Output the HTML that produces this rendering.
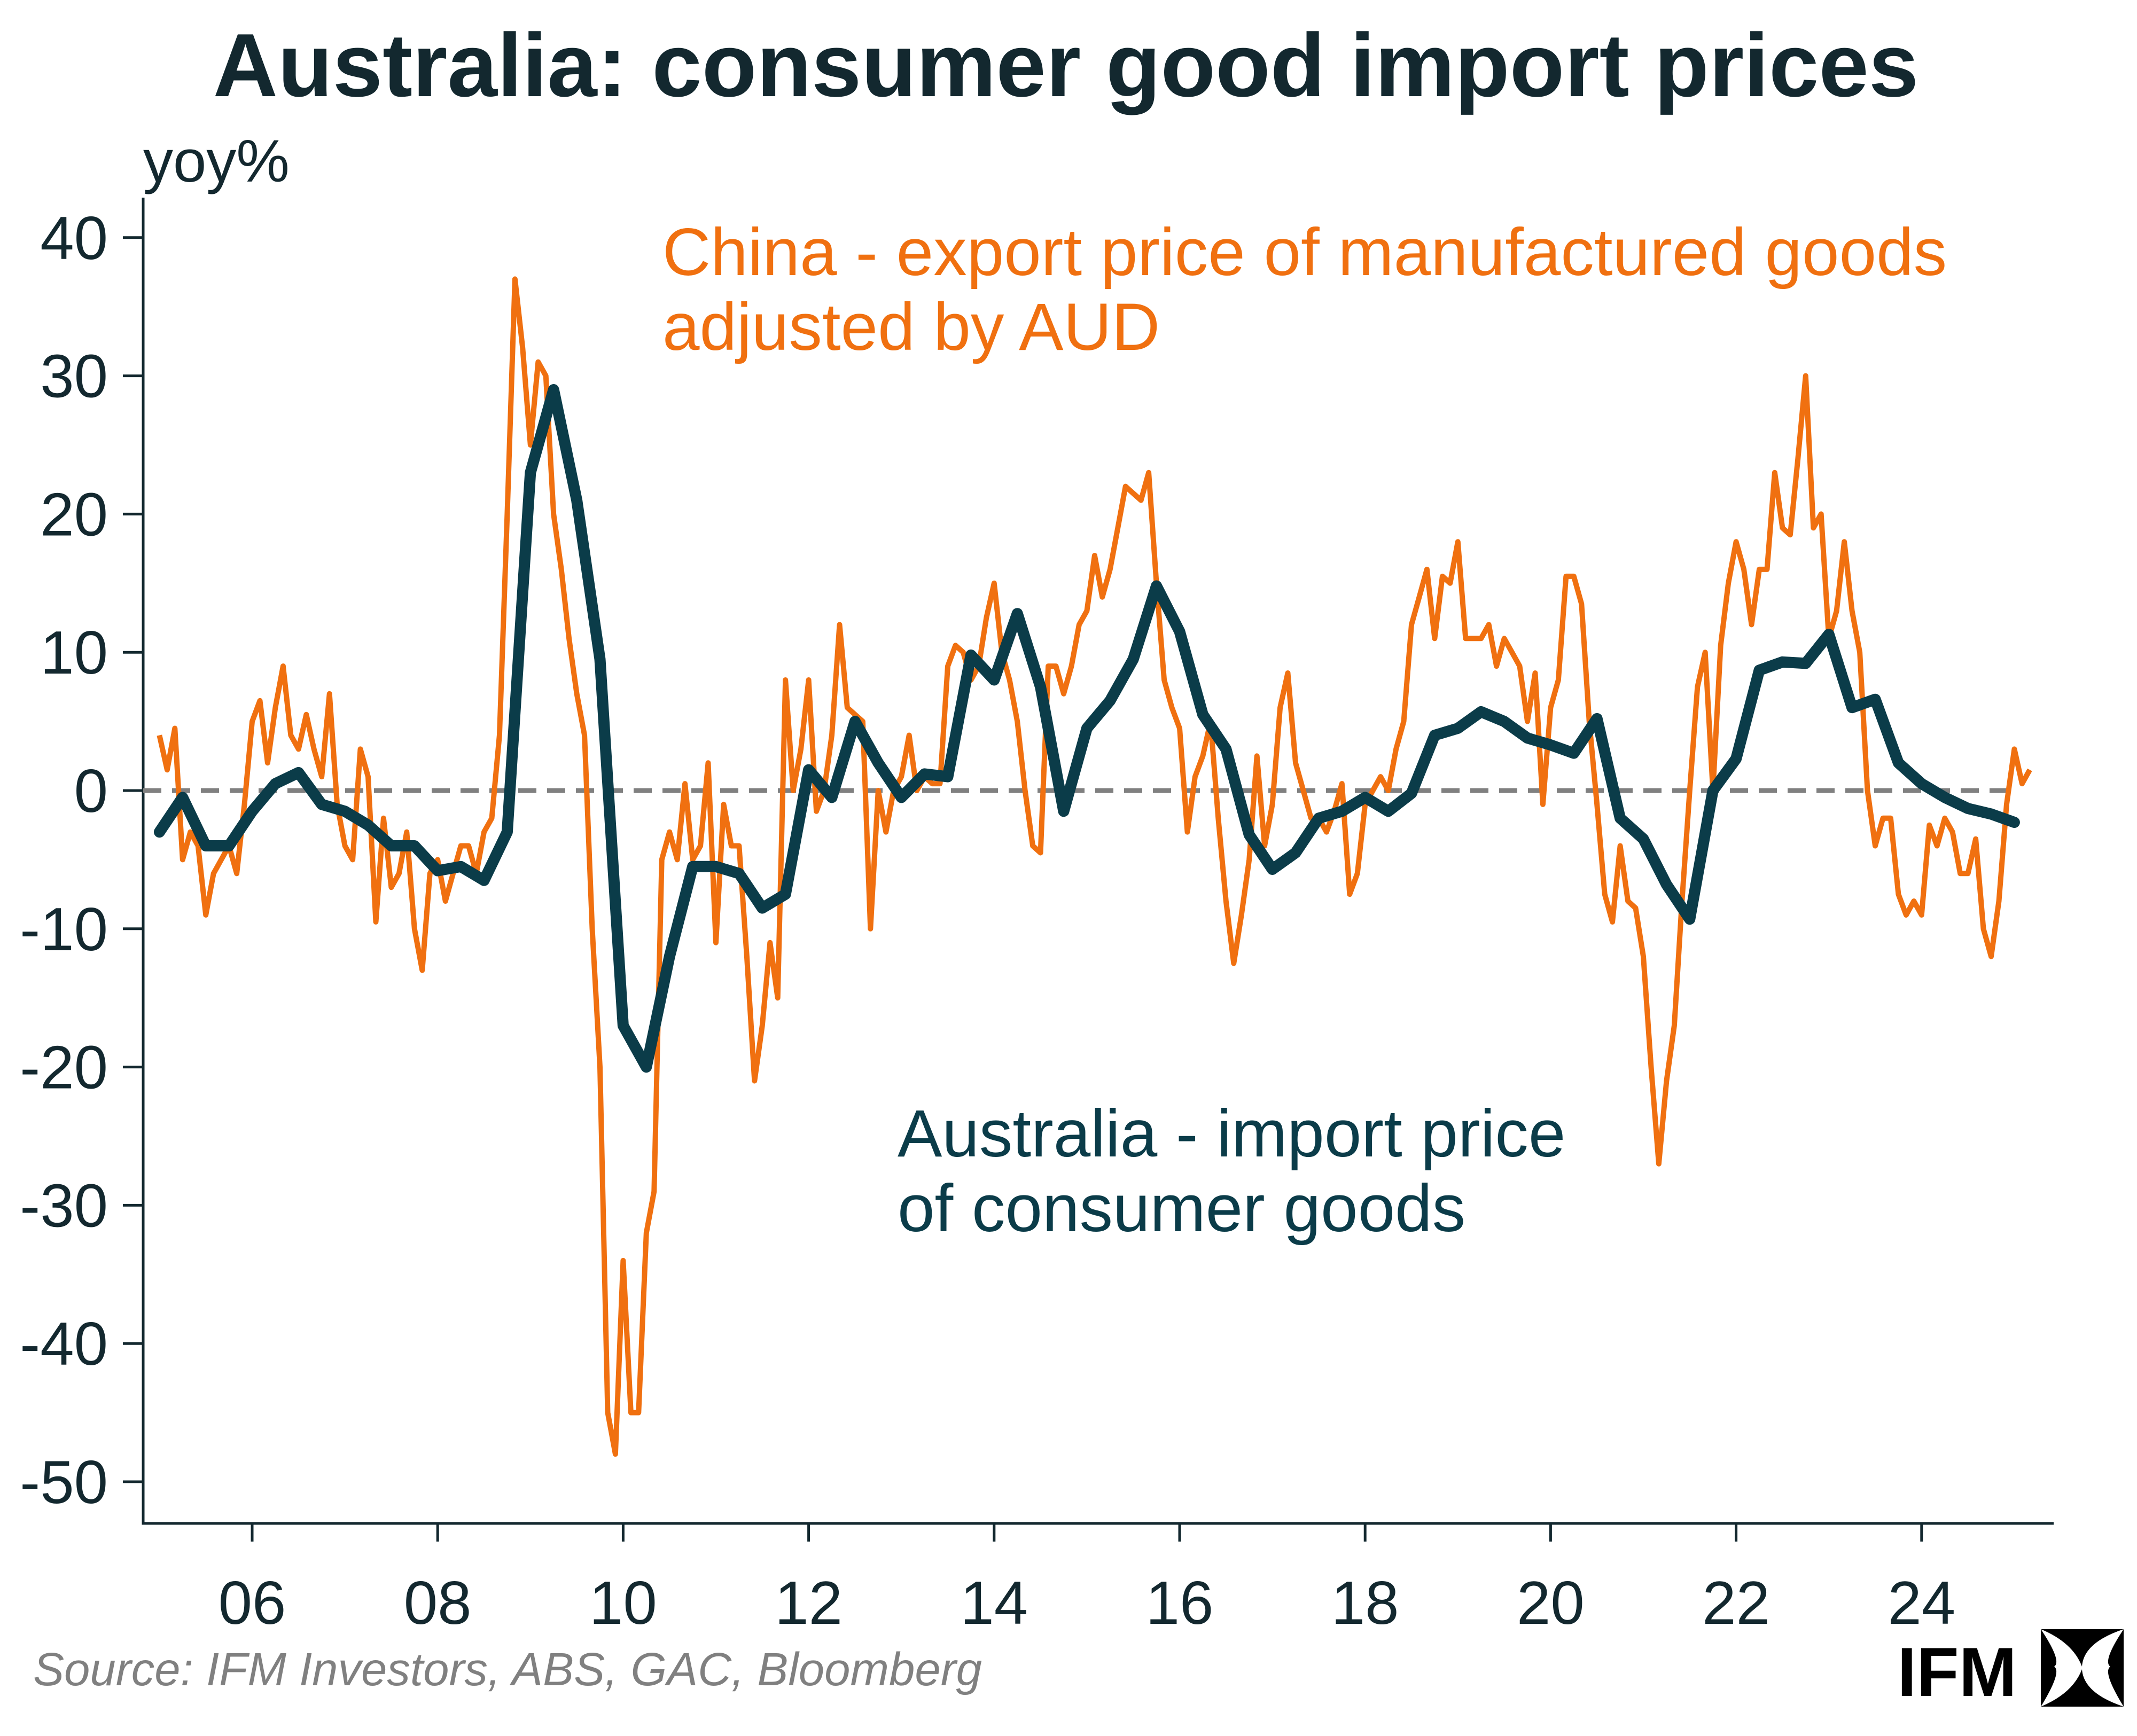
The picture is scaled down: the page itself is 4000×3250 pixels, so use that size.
<!DOCTYPE html>
<html><head><meta charset="utf-8"><style>
html,body{margin:0;padding:0;background:#fff;}
svg{display:block;font-family:"Liberation Sans",sans-serif;}
</style></head><body>
<svg id="chart" width="4000" height="3250" viewBox="0 0 4000 3250" xmlns="http://www.w3.org/2000/svg">
<text x="1995" y="180" text-anchor="middle" font-size="168" font-weight="bold" fill="#13282f">Australia: consumer good import prices</text>
<text x="268" y="340" font-size="112" fill="#13282f">yoy%</text>
<g id="axes"></g>
<g id="series"></g>
<text x="1240" y="515" font-size="125" fill="#f07010">China - export price of manufactured goods</text>
<text x="1240" y="655" font-size="125" fill="#f07010">adjusted by AUD</text>
<text x="1680" y="2165" font-size="125" fill="#0b3c49">Australia - import price</text>
<text x="1680" y="2305" font-size="125" fill="#0b3c49">of consumer goods</text>
<text x="62" y="3155" font-size="87" font-style="italic" fill="#808080">Source: IFM Investors, ABS, GAC, Bloomberg</text>
<g>
<text x="3775" y="3175" text-anchor="end" font-size="130" font-weight="bold" fill="#000">IFM</text>
<path d="M3820 3050 L3975 3050 Q3900 3075 3897 3120 Q3880 3075 3820 3050 Z M3820 3050 Q3860 3110 3845 3120 Q3860 3130 3820 3195 Z M3975 3050 Q3935 3110 3950 3120 Q3935 3130 3975 3195 Z M3820 3195 Q3880 3170 3897 3125 Q3900 3170 3975 3195 Z" fill="#000"/>
</g>
</svg>
<script>
const yTicks=[40,30,20,10,0,-10,-20,-30,-40,-50];
const xTickYears=[2006,2008,2010,2012,2014,2016,2018,2020,2022,2024];
const xTickLabels=["06","08","10","12","14","16","18","20","22","24"];
const chinaStart=2005.0;
const chinaValues=[4,1.5,4.5,-5,-3,-4,-9,-6,-5,-4,-6,-1,
5,6.5,2,6,9,4,3,5.5,3,1,7,-1,
-4,-5,3,1,-9.5,-2,-7,-6,-3,-10,-13,
-6,-5,-8,-6,-4,-4,-6,-3,-2,4,20,
37,32,25,31,30,20,16,11,7,4,-10,-20,
-45,-48,-34,-45,-45,-32,-29,-5,-3,-5,0.5,-5,
-4,2,-11,-1,-4,-4,-12,-21,-17,-11,-15,8,
0,3,8,-1.5,0,4,12,6,5.5,5,-10,0,
-3,0,1,4,0,1,0.5,0.5,9,10.5,10,8,9,
12.5,15,10,8,5,0,-4,-4.5,9,9,7,9,
12,13,17,14,16,19,22,21.5,21,23,15,8,
6,4.5,-3,1,2.5,5,-2,-8,-12.5,-9,-5,2.5,
-4,-1,6,8.5,2,0,-2,-2,-3,-1.5,0.5,-7.5,-6,
-1,0,1,0,3,5,12,14,16,11,15.5,15,
18,11,11,11,12,9,11,10,9,5,8.5,-1,6,
8,15.5,15.5,13.5,5,-1,-7.5,-9.5,-4,-8,-8.5,-12,
-20,-27,-21,-17,-8,0,7.5,10,0,10.5,15,18,
16,12,16,16,23,19,18.5,24,30,19,20,11,
13,18,13,10,0,-4,-2,-2,-7.5,-9,-8,-9,
-2.5,-4,-2,-3,-6,-6,-3.5,-10,-12,-8,-1,3,
0.5,1.5];
const ausStart=2005.0, ausEnd=2025.0;
const ausValues=[-3,-0.5,-4,
-4,-1.5,0.5,1.3,
-1,-1.5,-2.5,-4,
-4,-5.8,-5.5,-6.5,
-3,23,29,21,
9.5,-17,-20,-12,
-5.5,-5.5,-6,-8.5,
-7.5,1.5,-0.5,5,
2,-0.5,1.2,1,
9.8,8,12.8,7.5,
-1.5,4.5,6.5,9.5,
14.8,11.5,5.5,3,
-3.2,-5.7,-4.5,-2,
-1.5,-0.5,-1.5,-0.2,
4,4.5,5.7,5,
3.8,3.3,2.7,5.2,
-2,-3.5,-6.8,-9.3,
0,2.3,8.7,9.3,
9.2,11.3,6,6.6,
2,0.5,-0.5,-1.3,
-1.7,-2.3];

const NS="http://www.w3.org/2000/svg";
const L=268,R=3844,B=2852;
function xs(yr){return 472+(yr-2006)*173.6;}
function ys(v){return 1480-v*25.88;}
function mk(tag,attrs,parent){const e=document.createElementNS(NS,tag);for(const k in attrs)e.setAttribute(k,attrs[k]);parent.appendChild(e);return e;}
const axes=document.getElementById('axes');
const ser=document.getElementById('series');
let a=mk('path',{d:`M${L} 370 V${B} H${R}`,fill:'none',stroke:'#13282f','stroke-width':5},axes);


yTicks.forEach(v=>{
  const t=mk('line',{x1:L-38,x2:L,y1:ys(v),y2:ys(v),stroke:'#13282f','stroke-width':5},axes);
  
  
  const lb=mk('text',{x:L-66,y:ys(v)+40,'text-anchor':'end','font-size':114,fill:'#13282f'},axes);
  lb.textContent=v;
  
  
});
xTickYears.forEach((yr,i)=>{
  const t=mk('line',{x1:xs(yr),x2:xs(yr),y1:B,y2:B+34,stroke:'#13282f','stroke-width':5},axes);
  
  
  const lb=mk('text',{x:xs(yr),y:3040,'text-anchor':'middle','font-size':114,fill:'#13282f'},axes);
  lb.textContent=xTickLabels[i];
  
  
});
const z=mk('line',{x1:L,x2:3760,y1:ys(0),y2:ys(0),stroke:'#808080','stroke-width':9,'stroke-dasharray':'34 20'},ser);


const cp=mk('polyline',{points:chinaValues.map((v,i)=>`${xs(chinaStart+i/12).toFixed(1)},${ys(v).toFixed(1)}`).join(' '),fill:'none',stroke:'#f07010','stroke-width':10,'stroke-linejoin':'round'},ser);


const step=(ausEnd-ausStart)/(ausValues.length-1);
const ap=mk('polyline',{points:ausValues.map((v,i)=>`${xs(ausStart+i*step).toFixed(1)},${ys(v).toFixed(1)}`).join(' '),fill:'none',stroke:'#0b3c49','stroke-width':21,'stroke-linejoin':'round','stroke-linecap':'round'},ser);


</script>
</body></html>
